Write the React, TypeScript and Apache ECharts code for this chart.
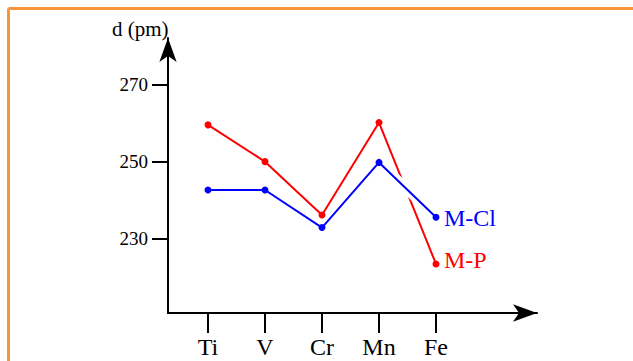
import React, { useEffect, useRef } from "react";
import * as echarts from "echarts";

const categories = ["Ti", "V", "Cr", "Mn", "Fe"];
const yTicks = [230, 250, 270];
const mpValues = [259.6, 250.0, 236.1, 260.2, 223.3];
const mclValues = [242.6, 242.6, 232.8, 249.8, 235.5];
// white gap segment along M-Cl where it crosses M-P (Mn -> Fe)
const crossingMask = [null, null, null, 249.8, 235.5];

const FONT = "'Liberation Serif', 'DejaVu Serif', serif";

export default function App() {
  const ref = useRef<HTMLDivElement>(null);
  useEffect(() => {
    document.body.style.margin = "0";
    const chart = echarts.init(ref.current!, null, { renderer: "svg" });
    const toPairs = (arr: (number | null)[]) =>
      arr.map((v, i) => [i, v]);
    chart.setOption({
      animation: false,
      backgroundColor: "#ffffff",
      title: {
        text: "d (pm)",
        left: 107,
        top: 13,
        textStyle: { fontFamily: FONT, fontSize: 21, fontWeight: "normal", color: "#000" },
      },
      graphic: [
        {
          type: "line",
          shape: { x1: 8.5, y1: 8.5, x2: 633, y2: 8.5 },
          style: { stroke: "#F7943C", lineWidth: 3 },
        },
        {
          type: "line",
          shape: { x1: 8.5, y1: 8.5, x2: 8.5, y2: 361 },
          style: { stroke: "#F7943C", lineWidth: 3 },
        },
      ],
      grid: { left: 168, right: 96, top: 38, bottom: 48 },
      xAxis: {
        type: "value",
        min: -0.7018,
        max: 5.772,
        splitLine: { show: false },
        axisLine: {
          show: true,
          onZero: false,
          lineStyle: { color: "#000", width: 2 },
          symbol: ["none", "arrow"],
          symbolSize: [13, 24],
        },
        axisTick: {
          show: true,
          length: 20,
          customValues: [0, 1, 2, 3, 4],
          lineStyle: { color: "#000", width: 2 },
        },
        axisLabel: {
          customValues: [0, 1, 2, 3, 4],
          formatter: (v: number) => categories[Math.round(v)] ?? "",
          fontFamily: FONT,
          fontSize: 24,
          color: "#000",
          margin: 22,
        },
      },
      yAxis: {
        type: "value",
        min: 210.51,
        max: 282.26,
        splitLine: { show: false },
        axisLine: {
          show: true,
          onZero: false,
          lineStyle: { color: "#000", width: 2 },
          symbol: ["none", "arrow"],
          symbolSize: [13, 24],
        },
        axisTick: {
          show: true,
          length: 16,
          customValues: yTicks,
          lineStyle: { color: "#000", width: 2 },
        },
        axisLabel: {
          customValues: yTicks,
          fontFamily: FONT,
          fontSize: 19,
          color: "#000",
          margin: 20,
        },
      },
      series: [
        {
          name: "M-P",
          type: "line",
          data: toPairs(mpValues),
          symbol: "circle",
          symbolSize: 7,
          itemStyle: { color: "#FF0000" },
          lineStyle: { color: "#FF0000", width: 2 },
          z: 2,
          endLabel: {
            show: true,
            formatter: "{a}",
            color: "#FF0000",
            fontFamily: FONT,
            fontSize: 24,
            distance: 8,
            offset: [0, -4],
          },
        },
        {
          name: "gap",
          type: "line",
          data: toPairs(crossingMask),
          showSymbol: false,
          symbol: "none",
          lineStyle: { color: "#ffffff", width: 10, cap: "butt" },
          z: 3,
          silent: true,
        },
        {
          name: "M-Cl",
          type: "line",
          data: toPairs(mclValues),
          symbol: "circle",
          symbolSize: 7,
          itemStyle: { color: "#0000FF" },
          lineStyle: { color: "#0000FF", width: 2 },
          z: 4,
          endLabel: {
            show: true,
            formatter: "{a}",
            color: "#0000FF",
            fontFamily: FONT,
            fontSize: 24,
            distance: 8,
            offset: [0, 1],
          },
        },
      ],
    });
    return () => chart.dispose();
  }, []);
  return <div ref={ref} style={{ width: 633, height: 361 }} />;
}
